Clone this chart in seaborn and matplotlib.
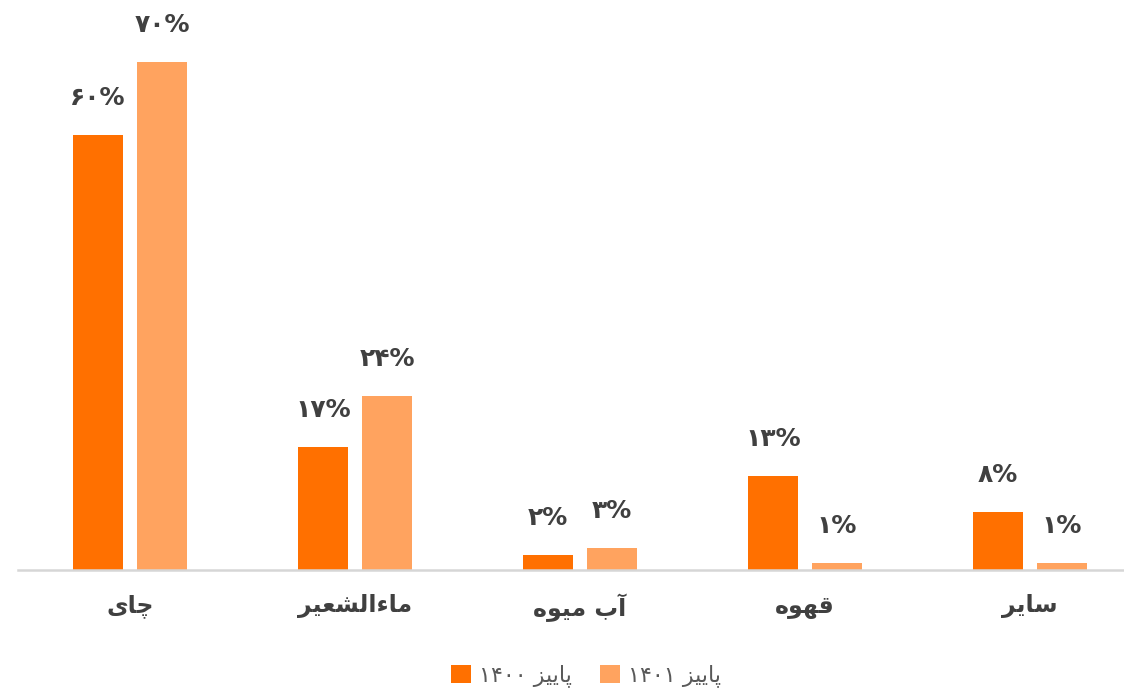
import matplotlib
matplotlib.use("Agg")
import matplotlib.pyplot as plt
from matplotlib.patches import Patch
import seaborn as sns
import pandas as pd

# Data
categories = ["چای", "ماءالشعیر", "آب میوه", "قهوه", "سایر"]
series_names = ["پاییز ۱۴۰۰", "پاییز ۱۴۰۱"]
values_1400 = [60, 17, 2, 13, 8]
values_1401 = [70, 24, 3, 1, 1]

DARK = "#FF7000"
LIGHT = "#FFA35F"
TEXT = "#404040"

# Minimal Persian shaping: contextual forms (isolated, final, initial, medial)
FORMS = {
    "\u0621": ("\uFE80", None, None, None),
    "\u0622": ("\uFE81", "\uFE82", None, None),
    "\u0627": ("\uFE8D", "\uFE8E", None, None),
    "\u0628": ("\uFE8F", "\uFE90", "\uFE91", "\uFE92"),
    "\u067E": ("\uFB56", "\uFB57", "\uFB58", "\uFB59"),
    "\u0686": ("\uFB7A", "\uFB7B", "\uFB7C", "\uFB7D"),
    "\u0631": ("\uFEAD", "\uFEAE", None, None),
    "\u0632": ("\uFEAF", "\uFEB0", None, None),
    "\u0633": ("\uFEB1", "\uFEB2", "\uFEB3", "\uFEB4"),
    "\u0634": ("\uFEB5", "\uFEB6", "\uFEB7", "\uFEB8"),
    "\u0639": ("\uFEC9", "\uFECA", "\uFECB", "\uFECC"),
    "\u0642": ("\uFED5", "\uFED6", "\uFED7", "\uFED8"),
    "\u0644": ("\uFEDD", "\uFEDE", "\uFEDF", "\uFEE0"),
    "\u0645": ("\uFEE1", "\uFEE2", "\uFEE3", "\uFEE4"),
    "\u0647": ("\uFEE9", "\uFEEA", "\uFEEB", "\uFEEC"),
    "\u0648": ("\uFEED", "\uFEEE", None, None),
    "\u06CC": ("\uFBFC", "\uFBFD", "\uFBFE", "\uFBFF"),
}


def _joins_left(ch):
    f = FORMS.get(ch)
    return f is not None and f[2] is not None


def _joins_right(ch):
    f = FORMS.get(ch)
    return f is not None and f[1] is not None


def shape_word(word):
    out = []
    for i, ch in enumerate(word):
        if ch not in FORMS:
            out.append(ch)
            continue
        prev = word[i - 1] if i > 0 else None
        nxt = word[i + 1] if i + 1 < len(word) else None
        jp = prev is not None and _joins_left(prev) and _joins_right(ch)
        jn = nxt is not None and _joins_left(ch) and _joins_right(nxt)
        iso, fin, ini, med = FORMS[ch]
        if jp and jn:
            out.append(med)
        elif jp:
            out.append(fin)
        elif jn:
            out.append(ini)
        else:
            out.append(iso)
    return "".join(out)


def is_rtl(word):
    return any(c in FORMS for c in word)


def rtl(text):
    words = text.split(" ")
    visual = []
    for w in reversed(words):
        visual.append(shape_word(w)[::-1] if is_rtl(w) else w)
    return " ".join(visual)


FA_DIGITS = str.maketrans("0123456789", "۰۱۲۳۴۵۶۷۸۹")


def fa_pct(v):
    return str(v).translate(FA_DIGITS) + "%"


df = pd.DataFrame({
    "category": categories * 2,
    "season": [series_names[0]] * len(categories) + [series_names[1]] * len(categories),
    "value": values_1400 + values_1401,
})

sns.set_style("white")
plt.rcParams["font.family"] = ["DejaVu Sans"]

fig = plt.figure(figsize=(11.24, 6.9), dpi=100)
W, H = 1124, 690
ax = fig.add_axes([17.5 / W, 120 / H, 1125 / W, 544 / H])

sns.barplot(data=df, x="category", y="value", hue="season",
            palette=[DARK, LIGHT], width=0.569, gap=0.22,
            saturation=1, linewidth=0, legend=False, ax=ax)

ax.set_xlim(-0.5, 4.5)
ax.set_ylim(0, 75)

for cont, vals in zip(ax.containers, [values_1400, values_1401]):
    ax.bar_label(cont, labels=[fa_pct(v) for v in vals], padding=18,
                 fontsize=18, fontweight="bold", color=TEXT, clip_on=False)

ax.set_xticks(range(len(categories)))
ax.set_xticklabels([rtl(c) for c in categories], fontsize=17,
                   fontweight="bold", color=TEXT)
ax.tick_params(axis="x", length=0, pad=17)
ax.set_yticks([])
ax.set_xlabel("")
ax.set_ylabel("")

for s in ["top", "right", "left"]:
    ax.spines[s].set_visible(False)
ax.spines["bottom"].set_color("#D6D6D6")
ax.spines["bottom"].set_linewidth(1.8)

handles = [Patch(facecolor=DARK, edgecolor="none"),
           Patch(facecolor=LIGHT, edgecolor="none")]
fig.legend(handles, [rtl(s) for s in series_names], loc="center",
           bbox_to_anchor=(586 / W, 14 / H), ncol=2, frameon=False,
           fontsize=16, handlelength=0.9, handleheight=0.9,
           handletextpad=0.35, columnspacing=1.3, labelcolor="#595959")

fig.savefig("out.png", dpi=100)
